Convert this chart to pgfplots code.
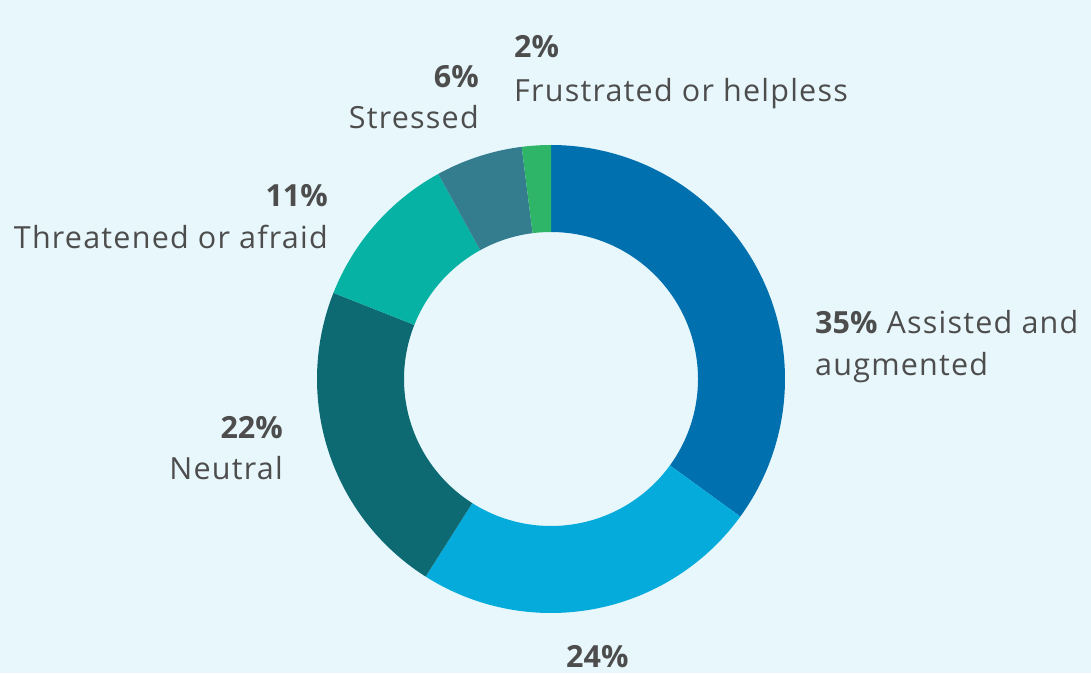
\documentclass[border=0pt]{standalone}
\usepackage{pgfplots}
\pgfplotsset{compat=1.18}
\usepackage{fontspec}
\setmainfont{Open Sans}[LetterSpace=4, BoldFeatures={LetterSpace=0}]

\definecolor{bg}{HTML}{E8F7FC}
\definecolor{txt}{HTML}{4D4D4D}
\definecolor{cA}{HTML}{0070AF}
\definecolor{cB}{HTML}{05ABDB}
\definecolor{cC}{HTML}{0D6A73}
\definecolor{cD}{HTML}{05B2A3}
\definecolor{cE}{HTML}{347D8E}
\definecolor{cF}{HTML}{2FB567}

% donut segment from cumulative percent #1 to #2
\newcommand{\seg}[3]{%
  \addplot[fill=#3, draw=none, domain=0:2, samples=201, variable=\t]
    ({551+ifthenelse(\t<1.005,234,147)*cos(90-3.6*(#1+(#2-#1)*ifthenelse(\t<1.005,\t,min(1,1.02*(2-\t)))))},
     {294+ifthenelse(\t<1.005,234,147)*sin(90-3.6*(#1+(#2-#1)*ifthenelse(\t<1.005,\t,min(1,1.02*(2-\t)))))}) -- cycle;
}

\begin{document}
\begin{tikzpicture}
\fill[bg] (0,0) rectangle (1091pt,673pt);
\begin{axis}[
    at={(0,0)}, anchor=south west,
    scale only axis,
    width=1091pt, height=673pt,
    xmin=0, xmax=1091, ymin=0, ymax=673,
    hide axis,
    clip=false,
]
% values: 35, 24, 22, 11, 6, 2 (cumulative)
\seg{0}{35}{cA}
\seg{35}{59}{cB}
\seg{59}{81}{cC}
\seg{81}{92}{cD}
\seg{92}{98}{cE}
\seg{98}{100}{cF}

\begin{scope}[every node/.style={font=\fontsize{30.5}{36}\selectfont, text=txt, inner sep=0pt}]
\node[anchor=base west] at (axis cs:514,615) {\bfseries 2\%};
\node[anchor=base west] at (axis cs:514,571) {Frustrated or helpless};
\node[anchor=base east] at (axis cs:479,585) {\bfseries 6\%};
\node[anchor=base east] at (axis cs:479,544) {Stressed};
\node[anchor=base east] at (axis cs:328,466) {\bfseries 11\%};
\node[anchor=base east] at (axis cs:328,424) {Threatened or afraid};
\node[anchor=base west] at (axis cs:815,340) {\textbf{35\%} Assisted and};
\node[anchor=base west] at (axis cs:815,298) {augmented};
\node[anchor=base east] at (axis cs:283,235) {\bfseries 22\%};
\node[anchor=base east] at (axis cs:283,194) {Neutral};
\node[anchor=base west] at (axis cs:566,6) {\bfseries 24\%};
\end{scope}
\end{axis}
\end{tikzpicture}
\end{document}
